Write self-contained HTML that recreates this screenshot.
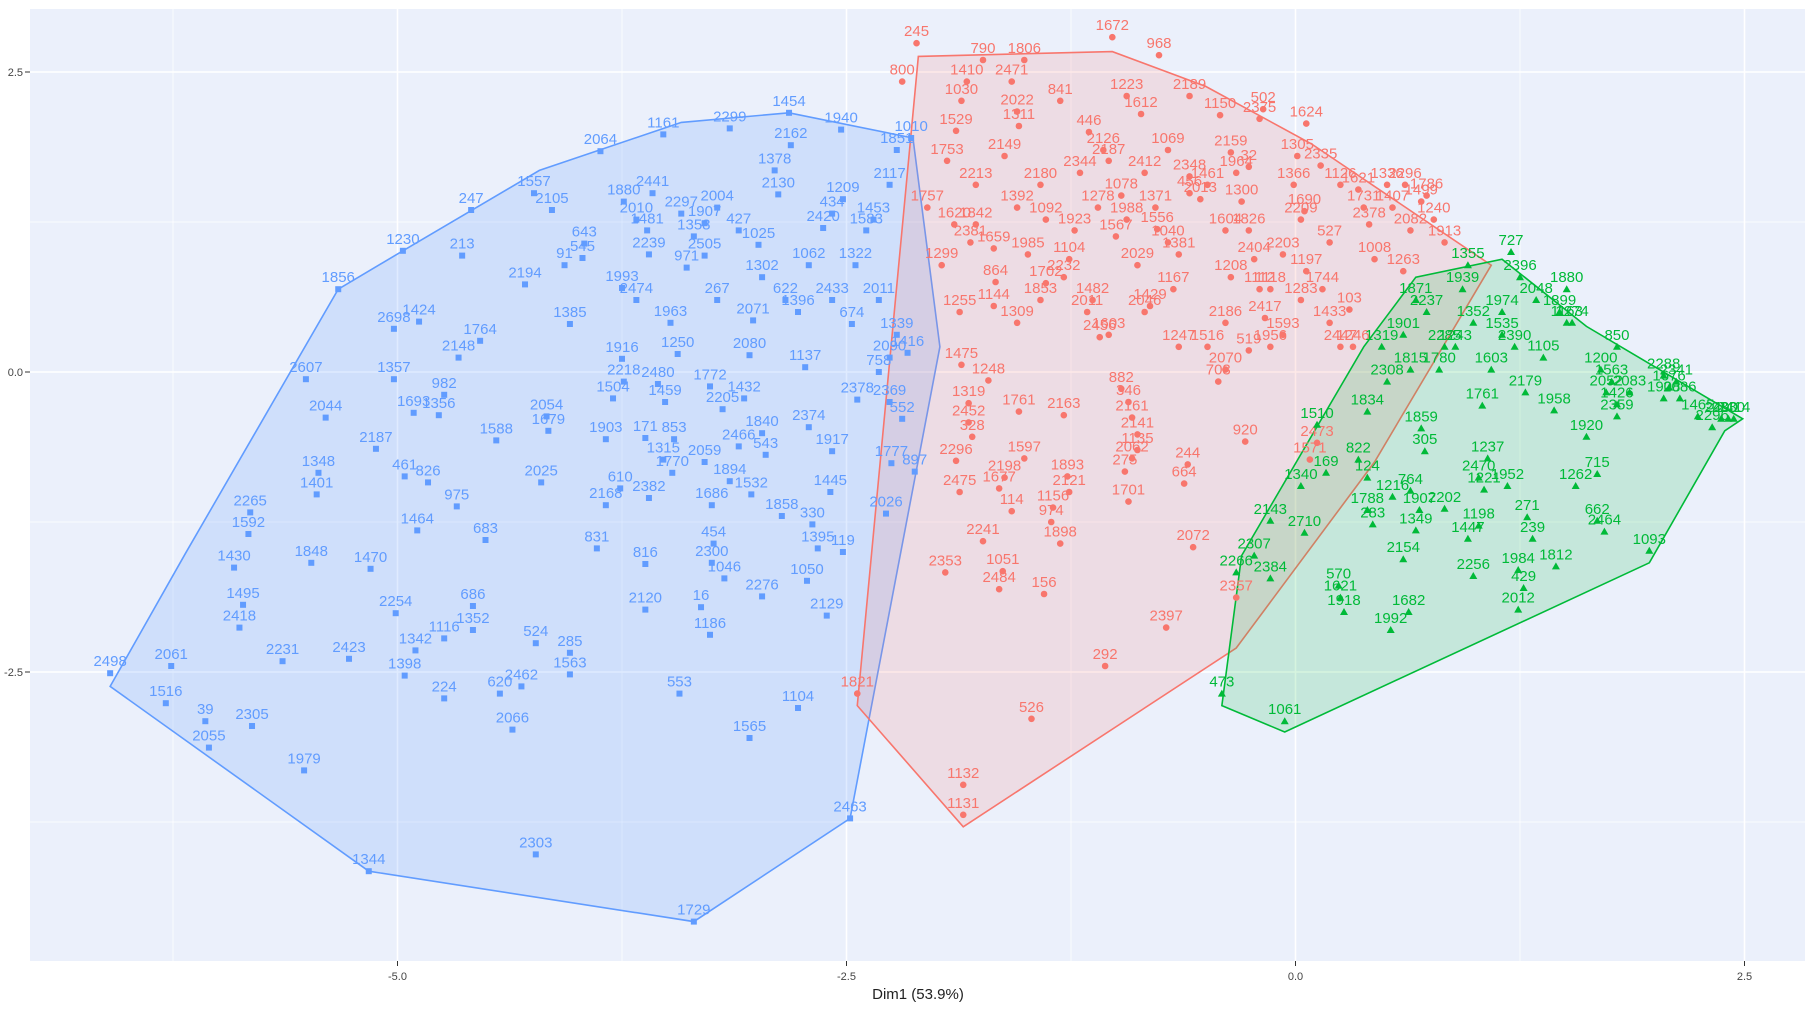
<!DOCTYPE html>
<html><head><meta charset="utf-8">
<style>
html,body{margin:0;padding:0;background:#fff;}
svg{display:block;font-family:"Liberation Sans",sans-serif;}
</style></head>
<body>
<svg id="chart" width="1812" height="1010" viewBox="0 0 1812 1010" xmlns="http://www.w3.org/2000/svg">
<rect x="30" y="9" width="1775" height="952" fill="#ebf0fb"/>
<g id="grid"></g>
<g id="hulls"></g>
<g id="marks"></g>
<g id="axes"></g>
<text x="918" y="999" font-size="15" text-anchor="middle" fill="#222">Dim1 (53.9%)</text>
</svg>
<script>
const xTicks=[-5,-2.5,0,2.5];
const xTickLabels=["-5.0","-2.5","0.0","2.5"];
const yTicks=[2.5,0,-2.5];
const yTickLabels=["2.5","0.0","-2.5"];

const blueHull=[[-6.60,-2.62],[-6.18,-1.51],[-5.33,0.69],[-4.97,1.01],[-4.21,1.68],[-3.42,2.08],[-2.82,2.16],[-2.13,1.95],[-1.98,0.21],[-2.48,-3.72],[-3.35,-4.58],[-5.16,-4.16]];
const redHull=[[-2.44,-2.78],[-2.10,2.63],[-1.02,2.67],[-0.50,2.38],[0.09,1.90],[1.09,0.89],[0.44,-0.75],[-0.33,-2.30],[-1.85,-3.79]];
const greenHull=[[-0.41,-2.78],[-0.06,-3.00],[1.97,-1.59],[2.39,-0.49],[2.49,-0.39],[1.62,0.38],[1.15,0.94],[0.67,0.79],[0.38,0.21],[-0.30,-1.53]];

const bluePts=[["1161",-3.52,1.98],["2064",-3.87,1.84],["2299",-3.15,2.03],["1454",-2.82,2.16],["1940",-2.53,2.02],["1010",-2.14,1.95],["1378",-2.90,1.68],["2162",-2.81,1.89],["2130",-2.88,1.48],["1557",-4.24,1.49],["2105",-4.14,1.35],["2441",-3.58,1.49],["643",-3.96,1.07],["545",-3.97,0.95],["1230",-4.97,1.01],["213",-4.64,0.97],["247",-4.59,1.35],["2194",-4.29,0.73],["91",-4.07,0.89],["1385",-4.04,0.40],["1424",-4.88,0.42],["1764",-4.54,0.26],["2148",-4.66,0.12],["1357",-5.02,-0.06],["982",-4.74,-0.19],["1693",-4.91,-0.34],["1356",-4.77,-0.36],["2044",-5.40,-0.38],["2187",-5.12,-0.64],["461",-4.96,-0.87],["826",-4.83,-0.92],["1348",-5.44,-0.84],["1401",-5.45,-1.02],["2265",-5.82,-1.17],["1592",-5.83,-1.35],["1430",-5.91,-1.63],["1495",-5.86,-1.94],["2418",-5.88,-2.13],["2061",-6.26,-2.45],["39",-6.07,-2.91],["2055",-6.05,-3.13],["1979",-5.52,-3.32],["1344",-5.16,-4.16],["2303",-4.23,-4.02],["1729",-3.35,-4.58],["2463",-2.48,-3.72],["1565",-3.04,-3.05],["553",-3.43,-2.68],["1104",-2.77,-2.80],["2066",-4.36,-2.98],["2462",-4.31,-2.62],["620",-4.43,-2.68],["285",-4.04,-2.34],["1563",-4.04,-2.52],["524",-4.23,-2.26],["224",-4.74,-2.72],["1398",-4.96,-2.53],["1342",-4.90,-2.32],["1116",-4.74,-2.22],["1352",-4.58,-2.15],["686",-4.58,-1.95],["2254",-5.01,-2.01],["1470",-5.15,-1.64],["1848",-5.48,-1.59],["2423",-5.27,-2.39],["2120",-3.62,-1.98],["16",-3.31,-1.96],["1186",-3.26,-2.19],["2276",-2.97,-1.87],["2129",-2.61,-2.03],["1050",-2.72,-1.74],["1046",-3.18,-1.72],["2300",-3.25,-1.59],["454",-3.24,-1.43],["831",-3.89,-1.47],["816",-3.62,-1.60],["2168",-3.84,-1.11],["610",-3.76,-0.97],["2025",-4.20,-0.92],["975",-4.67,-1.12],["1464",-4.89,-1.32],["683",-4.51,-1.40],["1588",-4.45,-0.57],["2054",-4.17,-0.37],["1679",-4.16,-0.49],["1903",-3.84,-0.56],["171",-3.62,-0.55],["853",-3.46,-0.56],["2059",-3.29,-0.75],["1315",-3.52,-0.73],["1894",-3.15,-0.91],["1686",-3.25,-1.11],["1532",-3.03,-1.02],["1858",-2.86,-1.20],["330",-2.69,-1.27],["1395",-2.66,-1.47],["119",-2.52,-1.50],["1445",-2.59,-1.00],["2026",-2.28,-1.18],["1777",-2.25,-0.76],["897",-2.12,-0.83],["552",-2.19,-0.39],["2369",-2.26,-0.25],["2378",-2.44,-0.23],["1432",-3.07,-0.22],["1772",-3.26,-0.12],["1137",-2.73,0.04],["2080",-3.04,0.14],["1916",-3.75,0.11],["1250",-3.44,0.15],["1396",-2.77,0.50],["2071",-3.02,0.43],["1025",-2.99,1.06],["2420",-2.63,1.20],["971",-3.39,0.87],["434",-2.58,1.32],["1209",-2.52,1.44],["1453",-2.35,1.27],["758",-2.32,0.00],["674",-2.47,0.40],["1907",-3.29,1.24],["2505",-3.29,0.97],["2239",-3.60,0.98],["1993",-3.75,0.70],["2480",-3.55,-0.10],["1459",-3.51,-0.25],["2205",-3.19,-0.31],["2466",-3.10,-0.62],["543",-2.95,-0.69],["2382",-3.60,-1.05],["1770",-3.47,-0.84],["2231",-5.64,-2.41],["2305",-5.81,-2.95],["1516",-6.29,-2.76],["2498",-6.60,-2.51],["1856",-5.33,0.69],["2607",-5.51,-0.06],["2698",-5.02,0.36],
["1880",-3.74,1.42],["2010",-3.67,1.27],["1481",-3.61,1.18],["2297",-3.42,1.32],["1358",-3.35,1.13],["2004",-3.22,1.37],["427",-3.10,1.18],["1302",-2.97,0.79],["622",-2.84,0.60],["1062",-2.71,0.89],["2433",-2.58,0.60],["1322",-2.45,0.89],["2011",-2.32,0.60],["1339",-2.22,0.31],["1416",-2.16,0.16],["2090",-2.26,0.12],["2474",-3.67,0.60],["1963",-3.48,0.41],["267",-3.22,0.60],["2218",-3.74,-0.08],["1504",-3.80,-0.22],["2374",-2.71,-0.46],["1917",-2.58,-0.66],["1840",-2.97,-0.51],["1583",-2.39,1.18],["2117",-2.26,1.56],["1851",-2.22,1.85]];

const redPts=[["245",-2.11,2.74],["1672",-1.02,2.79],["968",-0.76,2.64],["790",-1.74,2.60],["1806",-1.51,2.60],["2471",-1.58,2.42],["1410",-1.83,2.42],["800",-2.19,2.42],["1030",-1.86,2.26],["2022",-1.55,2.17],["841",-1.31,2.26],["1223",-0.94,2.30],["1612",-0.86,2.15],["2189",-0.59,2.30],["1150",-0.42,2.14],["2375",-0.20,2.11],["1624",0.06,2.07],["502",-0.18,2.19],["1529",-1.89,2.01],["1311",-1.54,2.05],["446",-1.15,2.00],["1305",0.01,1.80],["2159",-0.36,1.83],["2348",-0.59,1.63],["456",-0.59,1.49],["32",-0.26,1.71],["2013",-0.53,1.44],["1556",-0.77,1.19],["882",-0.97,-0.14],["346",-0.93,-0.25],["2161",-0.91,-0.38],["2141",-0.88,-0.52],["1135",-0.88,-0.65],["2062",-0.91,-0.72],["275",-0.95,-0.83],["1701",-0.93,-1.08],["244",-0.60,-0.77],["664",-0.62,-0.93],["703",-0.43,-0.08],["920",-0.28,-0.58],["2072",-0.57,-1.46],["2397",-0.72,-2.13],["292",-1.06,-2.45],["526",-1.47,-2.89],["1132",-1.85,-3.44],["1131",-1.85,-3.69],["1821",-2.44,-2.68],["2353",-1.95,-1.67],["2484",-1.65,-1.81],["156",-1.40,-1.85],["1051",-1.63,-1.66],["1898",-1.31,-1.43],["2241",-1.74,-1.41],["1156",-1.35,-1.13],["974",-1.36,-1.25],["114",-1.58,-1.16],["2475",-1.87,-1.00],["1677",-1.65,-0.97],["2198",-1.62,-0.88],["2296",-1.89,-0.74],["1597",-1.51,-0.72],["328",-1.80,-0.54],["2452",-1.82,-0.42],["1475",-1.86,0.06],["1248",-1.71,-0.07],["1319",-1.82,-0.26],["2163",-1.29,-0.36],["1893",-1.27,-0.87],["2121",-1.26,-1.00],["1761",-1.54,-0.33],["864",-1.67,0.75],["2456",-1.09,0.29],["2357",-0.33,-1.88],["1571",0.08,-0.73],["2473",0.12,-0.59],["519",-0.26,0.18],["1690",0.05,1.34],["103",0.30,0.52],["2335",0.14,1.72],["1757",-2.05,1.37],["1842",-1.78,1.23],["1659",-1.68,1.03],["2180",-1.42,1.56],["1092",-1.39,1.27],["1104",-1.26,0.94],["2344",-1.20,1.66],["1278",-1.10,1.37],["1567",-1.00,1.13],["2029",-0.88,0.89],["1853",-1.42,0.60],["2011",-1.16,0.50],["1429",-0.81,0.55],["1381",-0.65,0.98],["1604",-0.39,1.18],["1208",-0.36,0.79],["2203",-0.07,0.98],["1118",-0.14,0.69],["527",0.19,1.08],["1731",0.38,1.37],["1336",0.51,1.56],["2082",0.64,1.18],["1499",0.70,1.42],["1913",0.83,1.08],["1263",0.60,0.84],["1744",0.15,0.69],["2447",0.25,0.21],["1593",-0.07,0.31],["2186",-0.39,0.41],["1247",-0.65,0.21],["1461",-0.49,1.56],["1126",0.25,1.56],["1069",-0.71,1.85],["2149",-1.62,1.80],["1753",-1.94,1.76],["1309",-1.55,0.41],["1255",-1.87,0.50],["2126",-1.07,1.85],
["1964",-0.33,1.66],["1300",-0.30,1.42],["1826",-0.26,1.18],["2404",-0.23,0.94],["1112",-0.20,0.69],["2417",-0.17,0.45],["1956",-0.14,0.21],["1366",-0.01,1.56],["2209",0.03,1.27],["1197",0.06,0.84],["1283",0.03,0.60],["1621",0.35,1.52],["2378",0.41,1.23],["1008",0.44,0.94],["1407",0.54,1.37],["2296",0.61,1.56],["1786",0.73,1.47],["1240",0.77,1.27],["2187",-1.04,1.76],["1078",-0.97,1.47],["1988",-0.94,1.27],["2412",-0.84,1.66],["1371",-0.78,1.37],["1040",-0.71,1.08],["1167",-0.68,0.69],["1923",-1.23,1.18],["2232",-1.29,0.79],["1482",-1.13,0.60],["1603",-1.04,0.31],["2046",-0.84,0.50],["1392",-1.55,1.37],["1985",-1.49,0.98],["1702",-1.39,0.74],["1144",-1.68,0.55],["2381",-1.81,1.08],["1620",-1.90,1.23],["1299",-1.97,0.89],["2213",-1.78,1.56],["1516",-0.49,0.21],["2070",-0.39,0.02],["1433",0.19,0.41],["1246",0.32,0.21]];

const greenPts=[["727",1.20,1.00],["473",-0.41,-2.68],["1061",-0.06,-2.91],["1812",1.45,-1.62],["1093",1.97,-1.49],["662",1.68,-1.24],["2464",1.72,-1.33],["271",1.29,-1.21],["1198",1.02,-1.28],["1447",0.96,-1.39],["239",1.32,-1.39],["2154",0.60,-1.56],["2012",1.24,-1.98],["429",1.27,-1.80],["1984",1.24,-1.65],["2256",0.99,-1.70],["1907",0.69,-1.15],["764",0.64,-0.99],["1349",0.67,-1.32],["2470",1.02,-0.88],["1221",1.05,-0.98],["1237",1.07,-0.72],["1262",1.56,-0.95],["715",1.68,-0.85],["1920",1.62,-0.54],["1761",1.04,-0.28],["305",0.72,-0.66],["822",0.35,-0.73],["169",0.17,-0.84],["124",0.40,-0.88],["1788",0.40,-1.15],["283",0.43,-1.27],["2710",0.05,-1.34],["570",0.24,-1.78],["1621",0.25,-1.88],["1918",0.27,-2.00],["1992",0.53,-2.15],["1682",0.63,-2.00],["1510",0.12,-0.44],["1834",0.40,-0.33],["1859",0.70,-0.47],["2296",2.32,-0.46],["2341",2.12,-0.08],["1908",2.05,-0.22],["2400",2.37,-0.39],["1563",1.76,-0.08],["850",1.79,0.21],["2083",1.86,-0.17],["1274",1.54,0.41],["1880",1.51,0.69],["2396",1.25,0.79],["1974",1.15,0.50],["1352",0.99,0.41],["2285",0.83,0.21],["1815",0.64,0.02],["2308",0.51,-0.08],["1319",0.48,0.21],["1871",0.67,0.60],["1939",0.93,0.69],["1105",1.38,0.12],["2179",1.28,-0.17],["1603",1.09,0.02],["1958",1.44,-0.32],["2307",-0.23,-1.53],["2266",-0.33,-1.67],["2384",-0.14,-1.72],["2143",-0.14,-1.24],["1340",0.03,-0.95],["2202",0.83,-1.14],
["1200",1.70,0.02],["2052",1.73,-0.17],["1426",1.79,-0.27],["2288",2.05,-0.03],["1676",2.08,-0.13],["2086",2.14,-0.22],["1465",2.24,-0.37],["2330",2.41,-0.39],["2414",2.44,-0.39],["1899",1.47,0.50],["1163",1.51,0.41],["2048",1.34,0.60],["1535",1.15,0.31],["2390",1.22,0.21],["1243",0.89,0.21],["1780",0.80,0.02],["2237",0.73,0.50],["1355",0.96,0.89],["1901",0.60,0.31],["2359",1.79,-0.37],["1216",0.54,-1.04],["1952",1.18,-0.95]];

function X(v){return 1295.5+179.6*v;}
function Y(v){return 372-120*v;}
const NS="http://www.w3.org/2000/svg";
function mk(tag,attrs,parent){const e=document.createElementNS(NS,tag);for(const k in attrs)e.setAttribute(k,attrs[k]);parent.appendChild(e);return e;}

const grid=document.getElementById('grid');
xTicks.forEach(function(t){
  const l=mk('line',{x1:X(t),x2:X(t),y1:9,y2:961,stroke:'#fff','stroke-width':1.6},grid);
  
  
  const m=mk('line',{x1:X(t-1.25),x2:X(t-1.25),y1:9,y2:961,stroke:'#fff','stroke-width':0.7},grid);
  
  
});
yTicks.forEach(function(t){
  const l=mk('line',{x1:30,x2:1805,y1:Y(t),y2:Y(t),stroke:'#fff','stroke-width':1.6},grid);
  
  
  const m=mk('line',{x1:30,x2:1805,y1:Y(t-1.25),y2:Y(t-1.25),stroke:'#fff','stroke-width':0.7},grid);
  
  
});
const axes=document.getElementById('axes');
xTicks.forEach(function(t,i){
  const tk=mk('line',{x1:X(t),x2:X(t),y1:961,y2:966,stroke:'#333','stroke-width':1},axes);
  
  
  const tx=mk('text',{x:X(t),y:980,'font-size':11,'text-anchor':'middle',fill:'#444'},axes);
  tx.textContent=xTickLabels[i];
  
  
});
yTicks.forEach(function(t,i){
  const tk=mk('line',{x1:25,x2:30,y1:Y(t),y2:Y(t),stroke:'#333','stroke-width':1},axes);
  
  
  const tx=mk('text',{x:23,y:Y(t)+4,'font-size':11,'text-anchor':'end',fill:'#444'},axes);
  tx.textContent=yTickLabels[i];
  
  
});

const hulls=document.getElementById('hulls');
function hull(pts,fill,stroke,name){
  const p=mk('polygon',{points:pts.map(function(q){return X(q[0])+','+Y(q[1]);}).join(' '),fill:fill,stroke:stroke,'stroke-width':1.6},hulls);
  
  
}
hull(blueHull,'rgba(97,156,255,0.2)','#619CFF','cluster-3-hull');
hull(redHull,'rgba(248,118,109,0.16)','#F8766D','cluster-1-hull');
hull(greenHull,'rgba(0,186,56,0.16)','#00BA38','cluster-2-hull');

const marks=document.getElementById('marks');
function series(pts,color,shape,name){
  const g=mk('g',{},marks);
  
  
  pts.forEach(function(p){
    const x=X(p[1]),y=Y(p[2]);
    let m;
    if(shape==='square') m=mk('rect',{x:x-3,y:y-3,width:6,height:6,fill:color},g);
    else if(shape==='circle') m=mk('circle',{cx:x,cy:y,r:3.3,fill:color},g);
    else m=mk('polygon',{points:(x)+','+(y-4)+' '+(x-4)+','+(y+3)+' '+(x+4)+','+(y+3),fill:color},g);
    
    
    const t=mk('text',{x:x,y:y-7,'font-size':15,'text-anchor':'middle',fill:color},g);
    t.textContent=p[0];
    
    
  });
}
series(bluePts,'#619CFF','square','cluster-3-points');
series(redPts,'#F8766D','circle','cluster-1-points');
series(greenPts,'#00BA38','triangle','cluster-2-points');
</script>
</body></html>
